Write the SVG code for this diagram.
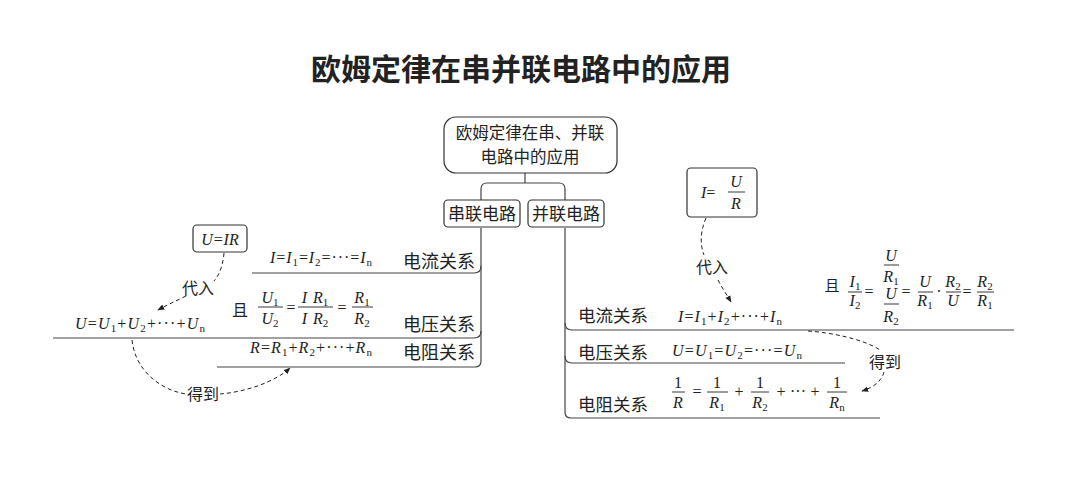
<svg xmlns="http://www.w3.org/2000/svg" width="1080" height="479" viewBox="0 0 1080 479">
<style>
.cn{font-family:"Noto Sans CJK SC","Noto Sans",sans-serif;fill:#222;}
.m{font-family:"Liberation Serif","Times New Roman",serif;font-size:16px;fill:#222;}
.i{font-style:italic;}
.s{font-size:11px;font-style:normal;}
.box{fill:#fff;stroke:#333;stroke-width:1.2;}
.ln{fill:none;stroke:#444;stroke-width:1.2;}
.fb{stroke:#222;stroke-width:0.9;}
.dash{fill:none;stroke:#222;stroke-width:1;stroke-dasharray:4 3;}
</style>
<defs>
<marker id="ah" viewBox="0 0 10 10" refX="9" refY="5" markerWidth="7" markerHeight="7" orient="auto" markerUnits="userSpaceOnUse">
<path d="M0,1 L10,5 L0,9 Z" fill="#222"/>
</marker>
</defs>
<rect width="1080" height="479" fill="#fff"/>
<text id="title" class="cn" x="521" y="80" font-size="30" font-weight="bold" text-anchor="middle">欧姆定律在串并联电路中的应用</text>

<g id="connectors">
<path class="ln" d="M525,173 V183 M481,200 V189 Q481,183 487,183 H559 Q565,183 565,189 V200"/>
<path class="ln" d="M481,228 V361 Q481,367 475,367 H217"/>
<path class="ln" d="M481,266 Q481,273 474,273 H252"/>
<path class="ln" d="M481,331 Q481,338 474,338 H53"/>
<path class="ln" d="M565,228 V412 Q565,418 571,418 H880"/>
<path class="ln" d="M565,323 Q565,330 572,330 H1014"/>
<path class="ln" d="M565,356 Q565,363 572,363 H845"/>
<path class="dash" d="M224,253 C223,265 220,274 214,281"/>
<path class="dash" d="M186,296 C176,301 167,305 158,310" marker-end="url(#ah)"/>
<path class="dash" d="M132,340 C135,370 160,390 186,394"/>
<path class="dash" d="M220,394 C245,392 275,382 290,368" marker-end="url(#ah)"/>
<path class="dash" d="M706,218 C700,232 700,245 704,255"/>
<path class="dash" d="M718,280 C722,288 727,295 731,302" marker-end="url(#ah)"/>
<path class="dash" d="M808,331 C835,333 865,340 880,350"/>
<path class="dash" d="M884,372 C882,380 875,387 862,391" marker-end="url(#ah)"/>
<text class="cn" x="198" y="294" font-size="16" text-anchor="middle">代入</text>
<text class="cn" x="203" y="400" font-size="16" text-anchor="middle">得到</text>
<text class="cn" x="712" y="273" font-size="16" text-anchor="middle">代入</text>
<text class="cn" x="885" y="368" font-size="16" text-anchor="middle">得到</text>
</g>

<g id="root">
<rect class="box" x="444" y="117" width="173" height="56" rx="12"/>
<text class="cn" x="530" y="139" font-size="16.5" text-anchor="middle">欧姆定律在串、并联</text>
<text class="cn" x="530" y="163" font-size="16.5" text-anchor="middle">电路中的应用</text>
</g>
<g id="series">
<rect class="box" x="444" y="200" width="76" height="27" rx="4"/>
<text class="cn" x="482" y="220" font-size="17" text-anchor="middle">串联电路</text>
</g>
<g id="parallel">
<rect class="box" x="528" y="200" width="76" height="27" rx="4"/>
<text class="cn" x="566" y="220" font-size="17" text-anchor="middle">并联电路</text>
</g>

<g id="ohm-left">
<rect class="box" x="193" y="225" width="54" height="27" rx="4"/>
<text class="m i" x="220" y="245" font-size="17" text-anchor="middle">U=IR</text>
</g>

<g id="series-current">
<text class="m" x="270" y="263" textLength="102" lengthAdjust="spacing"><tspan class="i">I</tspan>=<tspan class="i">I</tspan><tspan class="s" dy="3">1</tspan><tspan dy="-3">=</tspan><tspan class="i">I</tspan><tspan class="s" dy="3">2</tspan><tspan dy="-3">=···=</tspan><tspan class="i">I</tspan><tspan class="s" dy="3">n</tspan></text>
<text class="cn" x="475" y="268" font-size="18" text-anchor="end">电流关系</text>
</g>

<g id="series-voltage">
<text class="cn" x="240" y="316" font-size="16" text-anchor="middle">且</text>
<text class="m" x="270" y="303" text-anchor="middle"><tspan class="i">U</tspan><tspan class="s" dy="3">1</tspan></text>
<line class="fb" x1="258" y1="307" x2="283" y2="307"/>
<text class="m" x="270" y="324" text-anchor="middle"><tspan class="i">U</tspan><tspan class="s" dy="3">2</tspan></text>
<text class="m" x="291" y="313" text-anchor="middle">=</text>
<text class="m" x="315" y="303" text-anchor="middle"><tspan class="i">I</tspan><tspan class="i" dx="6">R</tspan><tspan class="s" dy="3">1</tspan></text>
<line class="fb" x1="298" y1="307" x2="333" y2="307"/>
<text class="m" x="315" y="324" text-anchor="middle"><tspan class="i">I</tspan><tspan class="i" dx="6">R</tspan><tspan class="s" dy="3">2</tspan></text>
<text class="m" x="342" y="313" text-anchor="middle">=</text>
<text class="m" x="362" y="303" text-anchor="middle"><tspan class="i">R</tspan><tspan class="s" dy="3">1</tspan></text>
<line class="fb" x1="352" y1="307" x2="373" y2="307"/>
<text class="m" x="362" y="324" text-anchor="middle"><tspan class="i">R</tspan><tspan class="s" dy="3">2</tspan></text>
<text class="cn" x="475" y="331" font-size="18" text-anchor="end">电压关系</text>
</g>

<g id="series-sum">
<text class="m" x="75" y="329" font-size="17" textLength="130" lengthAdjust="spacing"><tspan class="i">U</tspan>=<tspan class="i">U</tspan><tspan class="s" dy="3">1</tspan><tspan dy="-3">+</tspan><tspan class="i">U</tspan><tspan class="s" dy="3">2</tspan><tspan dy="-3">+···+</tspan><tspan class="i">U</tspan><tspan class="s" dy="3">n</tspan></text>
</g>

<g id="series-resistance">
<text class="m" x="250" y="353" textLength="122" lengthAdjust="spacing"><tspan class="i">R</tspan>=<tspan class="i">R</tspan><tspan class="s" dy="3">1</tspan><tspan dy="-3">+</tspan><tspan class="i">R</tspan><tspan class="s" dy="3">2</tspan><tspan dy="-3">+···+</tspan><tspan class="i">R</tspan><tspan class="s" dy="3">n</tspan></text>
<text class="cn" x="475" y="359" font-size="18" text-anchor="end">电阻关系</text>
</g>

<g id="ohm-right">
<rect class="box" x="687" y="168" width="70" height="49" rx="4"/>
<text class="m" x="701" y="198" font-size="17"><tspan class="i">I</tspan>=</text>
<text class="m i" x="736" y="187" font-size="17" text-anchor="middle">U</text>
<line class="fb" x1="728" y1="192" x2="745" y2="192"/>
<text class="m i" x="736" y="209" font-size="17" text-anchor="middle">R</text>
</g>

<g id="parallel-current">
<text class="cn" x="578" y="322" font-size="17.5">电流关系</text>
<text class="m" x="678" y="322" textLength="104" lengthAdjust="spacing"><tspan class="i">I</tspan>=<tspan class="i">I</tspan><tspan class="s" dy="3">1</tspan><tspan dy="-3">+</tspan><tspan class="i">I</tspan><tspan class="s" dy="3">2</tspan><tspan dy="-3">+···+</tspan><tspan class="i">I</tspan><tspan class="s" dy="3">n</tspan></text>
</g>

<g id="parallel-ratio">
<text class="cn" x="832" y="291" font-size="15" text-anchor="middle">且</text>
<text class="m" x="855" y="287" font-size="15" text-anchor="middle"><tspan class="i">I</tspan><tspan class="s" dy="3">1</tspan></text>
<line class="fb" x1="848" y1="292" x2="862" y2="292"/>
<text class="m" x="855" y="306" font-size="15" text-anchor="middle"><tspan class="i">I</tspan><tspan class="s" dy="3">2</tspan></text>
<text class="m" x="869" y="297" font-size="15" text-anchor="middle">=</text>
<text class="m i" x="891" y="261" font-size="15" text-anchor="middle">U</text>
<line class="fb" x1="884" y1="265" x2="899" y2="265"/>
<text class="m" x="891" y="282" font-size="15" text-anchor="middle"><tspan class="i">R</tspan><tspan class="s" dy="3">1</tspan></text>
<text class="m i" x="891" y="299" font-size="15" text-anchor="middle">U</text>
<line class="fb" x1="884" y1="304" x2="899" y2="304"/>
<text class="m" x="891" y="322" font-size="15" text-anchor="middle"><tspan class="i">R</tspan><tspan class="s" dy="3">2</tspan></text>
<text class="m" x="906" y="297" font-size="15" text-anchor="middle">=</text>
<text class="m i" x="925" y="287" font-size="15" text-anchor="middle">U</text>
<line class="fb" x1="918" y1="292" x2="933" y2="292"/>
<text class="m" x="925" y="306" font-size="15" text-anchor="middle"><tspan class="i">R</tspan><tspan class="s" dy="3">1</tspan></text>
<text class="m" x="939" y="297" font-size="15" text-anchor="middle">·</text>
<text class="m" x="953" y="287" font-size="15" text-anchor="middle"><tspan class="i">R</tspan><tspan class="s" dy="3">2</tspan></text>
<line class="fb" x1="946" y1="292" x2="961" y2="292"/>
<text class="m i" x="953" y="306" font-size="15" text-anchor="middle">U</text>
<text class="m" x="967" y="297" font-size="15" text-anchor="middle">=</text>
<text class="m" x="985" y="287" font-size="15" text-anchor="middle"><tspan class="i">R</tspan><tspan class="s" dy="3">2</tspan></text>
<line class="fb" x1="977" y1="292" x2="994" y2="292"/>
<text class="m" x="985" y="306" font-size="15" text-anchor="middle"><tspan class="i">R</tspan><tspan class="s" dy="3">1</tspan></text>
</g>

<g id="parallel-voltage">
<text class="cn" x="578" y="359" font-size="17.5">电压关系</text>
<text class="m" x="672" y="356" textLength="130" lengthAdjust="spacing"><tspan class="i">U</tspan>=<tspan class="i">U</tspan><tspan class="s" dy="3">1</tspan><tspan dy="-3">=</tspan><tspan class="i">U</tspan><tspan class="s" dy="3">2</tspan><tspan dy="-3">=···=</tspan><tspan class="i">U</tspan><tspan class="s" dy="3">n</tspan></text>
</g>

<g id="parallel-resistance">
<text class="cn" x="578" y="411" font-size="17.5">电阻关系</text>
<text class="m" x="678" y="388" text-anchor="middle">1</text>
<line class="fb" x1="672" y1="392" x2="685" y2="392"/>
<text class="m i" x="678" y="408" text-anchor="middle">R</text>
<text class="m" x="697" y="397" text-anchor="middle">=</text>
<text class="m" x="717" y="388" text-anchor="middle">1</text>
<line class="fb" x1="707" y1="392" x2="728" y2="392"/>
<text class="m" x="717" y="408" text-anchor="middle"><tspan class="i">R</tspan><tspan class="s" dy="3">1</tspan></text>
<text class="m" x="739" y="397" text-anchor="middle">+</text>
<text class="m" x="760" y="388" text-anchor="middle">1</text>
<line class="fb" x1="751" y1="392" x2="769" y2="392"/>
<text class="m" x="760" y="408" text-anchor="middle"><tspan class="i">R</tspan><tspan class="s" dy="3">2</tspan></text>
<text class="m" x="781" y="397" text-anchor="middle">+</text>
<text class="m" x="798" y="397" text-anchor="middle">···</text>
<text class="m" x="815" y="397" text-anchor="middle">+</text>
<text class="m" x="837" y="388" text-anchor="middle">1</text>
<line class="fb" x1="827" y1="392" x2="847" y2="392"/>
<text class="m" x="837" y="408" text-anchor="middle"><tspan class="i">R</tspan><tspan class="s" dy="3">n</tspan></text>
</g>
</svg>
